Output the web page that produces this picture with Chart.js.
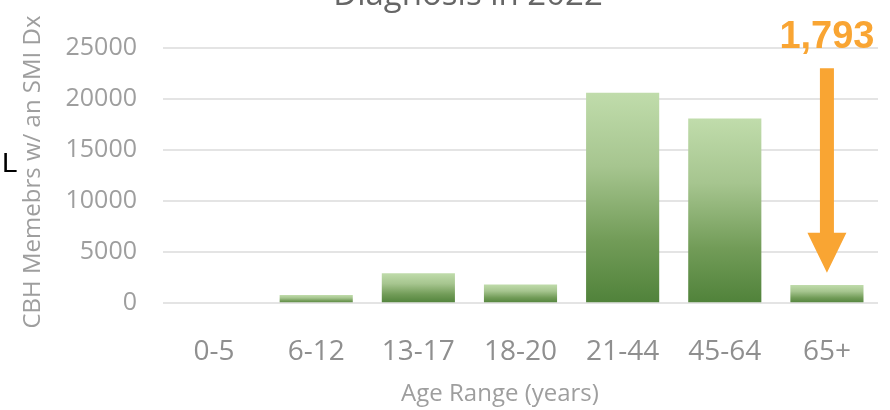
<!DOCTYPE html>
<html>
<head>
<meta charset="utf-8">
<script src="https://cdn.jsdelivr.net/npm/chart.js@4"></script>
<style>
  html, body { margin: 0; padding: 0; background: #fff; }
  #wrap { width: 890px; height: 410px; position: relative; }
</style>
</head>
<body>
<div id="wrap"><canvas id="c"></canvas></div>
<script>
// ---- data ----
const categories = ['0-5', '6-12', '13-17', '18-20', '21-44', '45-64', '65+'];
const members = [0, 800, 2950, 1850, 20600, 18070, 1793];
const yTicks = [0, 5000, 10000, 15000, 20000, 25000];
const titleText = 'Diagnosis in 2022';
const xTitle = 'Age Range (years)';
const yTitle = 'CBH Memebrs w/ an SMI Dx';
const highlightIndex = 6;
const sideMark = 'L';

const GRAY = '#9e9e9e';
const ORANGE = '#F9A533';

function barGradient(ctx) {
  const chart = ctx.chart;
  if (!chart.chartArea || ctx.type !== 'data') return '#8aae72';
  const ys = chart.scales.y;
  const top = ys.getPixelForValue(ctx.raw);
  const bottom = ys.getPixelForValue(0);
  if (bottom - top < 1) return '#55863a';
  const g = chart.ctx.createLinearGradient(0, top, 0, bottom);
  g.addColorStop(0, '#c0dcab');
  g.addColorStop(0.35, '#a6c58f');
  g.addColorStop(0.7, '#729c58');
  g.addColorStop(1, '#50823a');
  return g;
}

const overlay = {
  id: 'overlay',
  afterDraw(chart) {
    const c = chart.ctx;
    const xs = chart.scales.x, ys = chart.scales.y;
    c.save();
    // title (partially cut at top)
    c.fillStyle = '#666666';
    c.font = '33px "Open Sans"';
    c.textAlign = 'center';
    c.textBaseline = 'alphabetic';
    c.fillText(titleText, 468, 5);

    // x axis title
    c.fillStyle = GRAY;
    c.font = '24px "Open Sans"';
    c.fillText(xTitle, 500, 401);

    // y axis title
    c.save();
    c.translate(39.5, 172);
    c.rotate(-Math.PI / 2);
    c.font = '24px "Open Sans"';
    c.fillStyle = GRAY;
    c.textAlign = 'center';
    c.fillText(yTitle, 0, 0);
    c.restore();

    // stray "L"
    c.fillStyle = '#000';
    c.font = '28px "Liberation Sans", Arial';
    c.textAlign = 'left';
    c.fillText(sideMark, 2, 172);

    // highlight annotation
    const cx = xs.getPixelForValue(highlightIndex);
    c.fillStyle = ORANGE;
    c.font = 'bold 38px "Liberation Sans", Arial';
    c.textAlign = 'center';
    c.fillText(members[highlightIndex].toLocaleString('en-US'), cx, ys.getPixelForValue(25000) + 0.5);

    const shaftTop = ys.getPixelForValue(23000);
    const tip = ys.getPixelForValue(3000);
    const headH = 40, headW = 19.5, shaftW = 7;
    c.beginPath();
    c.moveTo(cx - shaftW, shaftTop);
    c.lineTo(cx + shaftW, shaftTop);
    c.lineTo(cx + shaftW, tip - headH);
    c.lineTo(cx + headW, tip - headH);
    c.lineTo(cx, tip);
    c.lineTo(cx - headW, tip - headH);
    c.lineTo(cx - shaftW, tip - headH);
    c.closePath();
    c.fill();
    c.restore();
  }
};

new Chart(document.getElementById('c'), {
  type: 'bar',
  data: {
    labels: categories,
    datasets: [{
      data: members,
      backgroundColor: barGradient,
      borderWidth: 0,
      categoryPercentage: 1,
      barPercentage: 0.716
    }]
  },
  options: {
    responsive: true,
    maintainAspectRatio: false,
    animation: false,
    layout: { padding: { top: 47.7, right: 12, left: 0, bottom: 0 } },
    plugins: { legend: { display: false }, tooltip: { enabled: false }, title: { display: false } },
    scales: {
      x: {
        grid: { display: false },
        border: { display: false },
        ticks: { color: '#8f8f8f', font: { family: 'Open Sans', size: 28 }, padding: 24, maxRotation: 0 },
        afterFit(scale) { scale.height = 410 - 303.3; }
      },
      y: {
        min: 0, max: 25000,
        afterBuildTicks(scale) { scale.ticks = yTicks.map(v => ({ value: v })); },
        grid: { color: '#e4e4e4', lineWidth: 2, drawTicks: false },
        border: { display: false },
        ticks: { color: GRAY, font: { family: 'Open Sans', size: 25 }, padding: 26, callback: v => String(v) },
        afterFit(scale) { scale.width = 163; }
      }
    }
  },
  plugins: [overlay]
});
</script>
</body>
</html>
